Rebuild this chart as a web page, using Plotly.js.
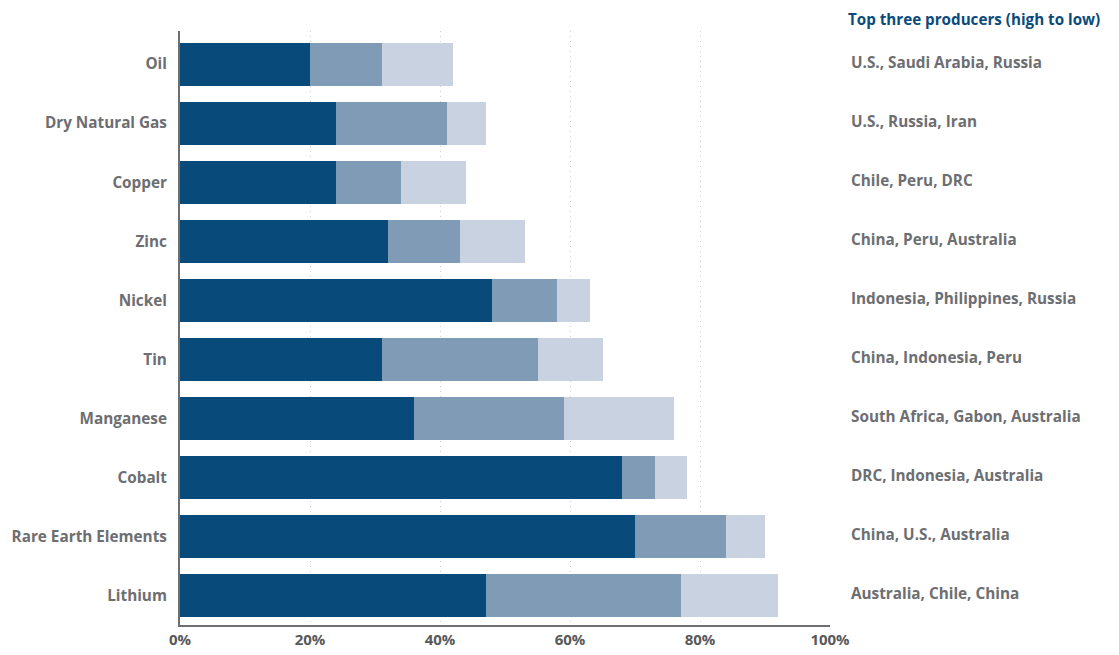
<!DOCTYPE html>
<html>
<head>
<meta charset="utf-8">
<script src="https://cdn.plot.ly/plotly-3.0.1.min.js"></script>
<style>html,body{margin:0;padding:0;background:#fff;}#chart{width:1119px;height:655px;}</style>
</head>
<body>
<div id="chart"></div>
<script>
const categories = ['Oil','Dry Natural Gas','Copper','Zinc','Nickel','Tin','Manganese','Cobalt','Rare Earth Elements','Lithium'];
const firstProducer  = [20, 24, 24, 32, 48, 31, 36, 68, 70, 47];
const secondProducer = [11, 17, 10, 11, 10, 24, 23,  5, 14, 30];
const thirdProducer  = [11,  6, 10, 10,  5, 10, 17,  5,  6, 15];
const producers = ['U.S., Saudi Arabia, Russia','U.S., Russia, Iran','Chile, Peru, DRC','China, Peru, Australia','Indonesia, Philippines, Russia','China, Indonesia, Peru','South Africa, Gabon, Australia','DRC, Indonesia, Australia','China, U.S., Australia','Australia, Chile, China'];
const xTickVals = [0, 20, 40, 60, 80, 100];
const xTickText = xTickVals.map(v => v + '%');
const rightTitle = 'Top three producers (high to low)';

const FONT = '"Open Sans", Lato, sans-serif';
const GRAY = '#6d6e71';
const colors = ['#084a7a', '#7f9bb6', '#c8d2e0'];
const series = [firstProducer, secondProducer, thirdProducer];

const traces = series.map((vals, i) => ({
  type: 'bar', orientation: 'h', y: categories, x: vals,
  marker: {color: colors[i], line: {width: 0}}, hoverinfo: 'none', showlegend: false
}));

const annotations = categories.map((c, i) => ({
  xref: 'paper', yref: 'y', x: 1, y: c, xanchor: 'left', yanchor: 'middle',
  xshift: 19, yshift: 2, text: producers[i], showarrow: false,
  font: {family: FONT, size: 15.3, color: GRAY, weight: 700}
}));
annotations.push({
  xref: 'paper', yref: 'paper', x: 1, y: 1, xanchor: 'left', yanchor: 'middle',
  xshift: 16, yshift: 12, text: rightTitle, showarrow: false,
  font: {family: FONT, size: 15.2, color: '#0b4a7c', weight: 700}
});

const layout = {
  width: 1119, height: 655,
  margin: {l: 180, r: 289, t: 31, b: 30},
  paper_bgcolor: '#fff', plot_bgcolor: '#fff',
  barmode: 'stack', bargap: 0.27,
  font: {family: FONT, color: GRAY},
  xaxis: {
    range: [0, 100], tickmode: 'array', tickvals: xTickVals, ticktext: xTickText,
    showgrid: true, gridcolor: '#cfcfcf', griddash: '1px,4px', gridwidth: 1,
    zeroline: false, showline: true, linecolor: GRAY, linewidth: 2,
    ticks: '', tickfont: {family: FONT, size: 15, color: '#58595b', weight: 700},
    fixedrange: true
  },
  yaxis: {
    range: [9.5, -0.56], showgrid: false, zeroline: false,
    showline: true, linecolor: GRAY, linewidth: 2, ticks: '', ticklabelstandoff: 8,
    tickfont: {family: FONT, size: 15.3, color: GRAY, weight: 700}, fixedrange: true
  },
  annotations: annotations
};

Plotly.newPlot('chart', traces, layout, {displayModeBar: false, staticPlot: true});
</script>
</body>
</html>
